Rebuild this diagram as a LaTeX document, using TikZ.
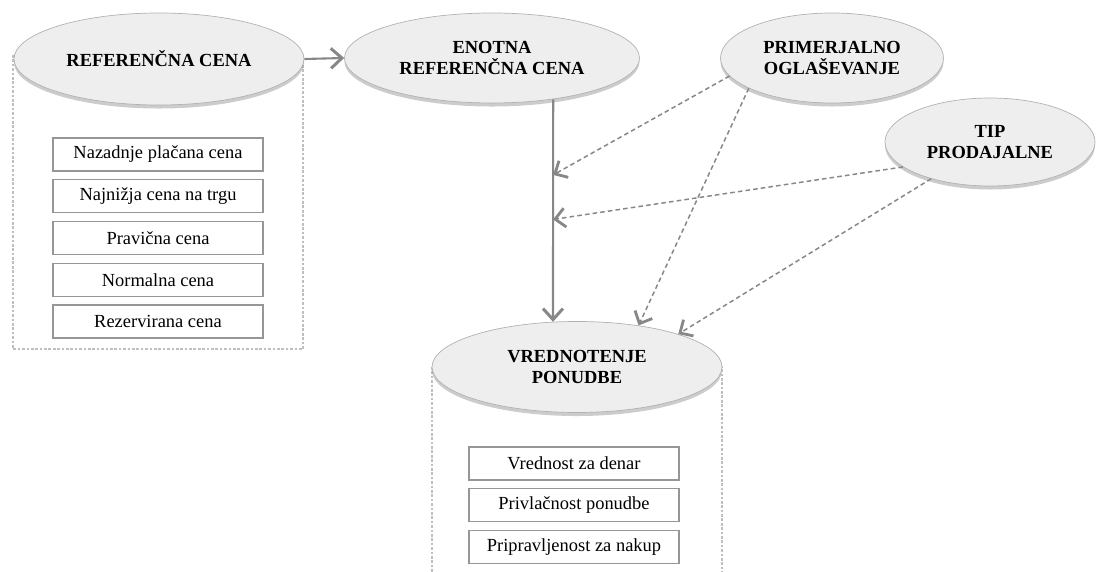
\documentclass[tikz,border=0pt]{standalone}
\usepackage{fontspec}
\setmainfont{Liberation Serif}
\usetikzlibrary{shapes.geometric, positioning, calc, arrows.meta, shadows}
\definecolor{ellfill}{RGB}{238,238,238}
\definecolor{linegray}{RGB}{135,135,135}
\definecolor{boxgray}{RGB}{150,150,150}

\begin{document}
\begin{tikzpicture}[
    pojem/.style={ellipse, draw=gray!60, fill=ellfill, inner sep=0pt, align=center,
        font=\fontsize{10.5}{12}\selectfont\bfseries,
        drop shadow={shadow xshift=0pt, shadow yshift=-2pt, opacity=0.4, fill=gray}},
    kazalnik/.style={rectangle, draw=boxgray, line width=0.8pt, minimum width=4.2cm,
        minimum height=0.66cm, inner sep=0pt, font=\fontsize{10.5}{12}\selectfont},
    okvir/.style={draw=gray!50, line width=0.6pt, dash pattern=on 1.5pt off 1pt},
    vpliv/.style={draw=linegray, line width=1.2pt,
        -{Straight Barb[length=2.2mm, width=4mm, line width=1.7pt]}},
    moderator/.style={draw=linegray, line width=0.85pt, dash pattern=on 2.6pt off 1.8pt,
        -{Straight Barb[length=2mm, width=3.8mm, line width=1.6pt]}}
]
        \clip (0,0) rectangle (21.94,-11.44);

        % Dashed frames behind the concepts
        \draw[okvir] (0.26,-1.1) rectangle (6.06,-6.98);
        \draw[okvir] (8.64,-7.34) rectangle (14.44,-12);

        % Concepts
        \node[pojem, minimum width=5.8cm, minimum height=1.84cm] (refcena) at (3.18,-1.18) {REFERENČNA CENA};
        \node[pojem, minimum width=5.9cm, minimum height=1.8cm] (enotna) at (9.84,-1.16) {ENOTNA\\REFERENČNA CENA};
        \node[pojem, minimum width=4.46cm, minimum height=1.8cm] (primerj) at (16.64,-1.16) {PRIMERJALNO\\OGLAŠEVANJE};
        \node[pojem, minimum width=4.2cm, minimum height=1.76cm] (prodaj) at (19.8,-2.84) {TIP\\PRODAJALNE};
        \node[pojem, minimum width=5.8cm, minimum height=1.82cm] (vredn) at (11.54,-7.34) {VREDNOTENJE\\PONUDBE};

        % Kinds of reference price
        \foreach \y/\name/\lbl in {0/k1/Nazadnje plačana cena, 1/k2/Najnižja cena na trgu, 2/k3/Pravična cena,
                3/k4/Normalna cena, 4/k5/Rezervirana cena} {
        \node[kazalnik] (\name) at (3.16,{-3.09-0.835*\y}) {\lbl};
        }

        % Offer evaluation
        \foreach \y/\name/\lbl in {0/v1/Vrednost za denar, 1/v2/Privlačnost ponudbe, 2/v3/Pripravljenost za nakup} {
        \node[kazalnik] (\name) at (11.48,{-9.27-0.835*\y}) {\lbl};
        }

        % Links
        \draw[vpliv] (refcena.east) -- (enotna.west);
        \draw[vpliv] (enotna.-34) -- (vredn.118);
        \coordinate (m1) at ($(enotna.-34)!0.34!(vredn.118)$);
        \coordinate (m2) at ($(enotna.-34)!0.54!(vredn.118)$);
        \draw[moderator] (primerj.190) -- (m1);
        \draw[moderator] (prodaj.196) -- (m2);
        \draw[moderator] (primerj.200) -- (vredn.34);
        \draw[moderator] (prodaj.212) -- (vredn.18);
    \end{tikzpicture}
\end{document}
